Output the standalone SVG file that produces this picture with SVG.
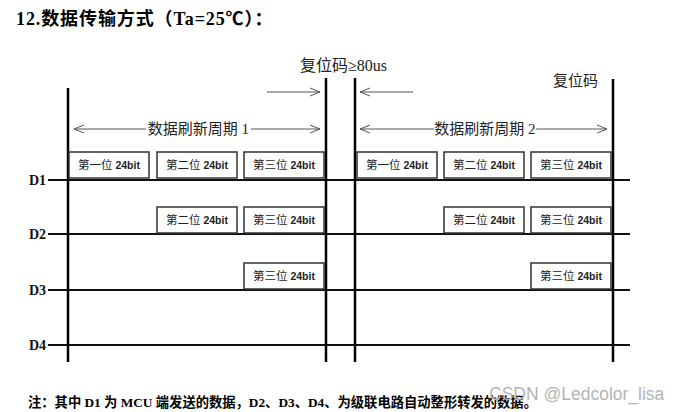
<svg xmlns="http://www.w3.org/2000/svg" width="684" height="412" viewBox="0 0 684 412">
<style>
.bg{fill:#fff}
.vl{stroke:#000;stroke-width:2.5;fill:none}
.hl{stroke:#111;stroke-width:2;fill:none}
.ar{stroke:#555;stroke-width:1;fill:none}
.box{fill:#fff;stroke:#333;stroke-width:1.5}
.cn{font-family:"Liberation Serif","Noto Sans CJK SC",serif;fill:#222}
.bl{font-family:"Liberation Serif","Noto Sans CJK SC",serif;font-size:11.5px;fill:#222}
.bit{font-family:"Liberation Sans","Noto Sans",sans-serif;font-weight:bold;font-size:10.5px}
.dl{font-family:"Liberation Serif",serif;font-weight:bold;font-size:14px;fill:#111}
.title{font-family:"Liberation Serif","Noto Sans CJK SC",serif;font-weight:bold;font-size:18px;letter-spacing:0.9px;fill:#000}
.note{font-family:"Liberation Serif","Noto Sans CJK SC",serif;font-weight:bold;font-size:13.3px;fill:#000}
.wm{font-family:"Liberation Sans",sans-serif;font-size:17.5px;fill:#b4b4b4}
</style>
<defs>
<marker id="ah" viewBox="0 0 10 10" refX="10" refY="5" markerWidth="10" markerHeight="10" markerUnits="userSpaceOnUse" orient="auto-start-reverse">
<path d="M0,1 L10,5 L0,9" fill="none" stroke="#555" stroke-width="1"/>
</marker>
</defs>
<rect class="bg" x="0" y="0" width="684" height="412"/>
<text class="title" x="16" y="25">12.数据传输方式（Ta=25℃）：</text>

<g id="connectors">
<line class="hl" x1="48" y1="180" x2="630" y2="180"/>
<line class="hl" x1="48" y1="234" x2="630" y2="234"/>
<line class="hl" x1="48" y1="290" x2="630" y2="290"/>
<line class="hl" x1="48" y1="345" x2="630" y2="345"/>
<line class="vl" x1="68" y1="88" x2="68" y2="362"/>
<line class="vl" x1="326" y1="78" x2="326" y2="362"/>
<line class="vl" x1="355" y1="78" x2="355" y2="362"/>
<line class="vl" x1="613" y1="79" x2="613" y2="362"/>
<line class="ar" x1="267" y1="92" x2="320" y2="92" marker-end="url(#ah)"/>
<line class="ar" x1="413" y1="92" x2="360" y2="92" marker-end="url(#ah)"/>
<line class="ar" x1="146" y1="129" x2="74" y2="129" marker-end="url(#ah)"/>
<line class="ar" x1="251" y1="129" x2="320" y2="129" marker-end="url(#ah)"/>
<line class="ar" x1="434" y1="129" x2="360" y2="129" marker-end="url(#ah)"/>
<line class="ar" x1="536" y1="129" x2="607" y2="129" marker-end="url(#ah)"/>
</g>

<g id="labels">
<text class="cn" x="300" y="71" font-size="16">复位码≥80us</text>
<text class="cn" x="553" y="86" font-size="15">复位码</text>
<text class="cn" x="198.5" y="134" font-size="15" text-anchor="middle">数据刷新周期 1</text>
<text class="cn" x="485" y="134" font-size="15" text-anchor="middle">数据刷新周期 2</text>
<text class="dl" x="46" y="185" text-anchor="end">D1</text>
<text class="dl" x="46" y="239" text-anchor="end">D2</text>
<text class="dl" x="46" y="295" text-anchor="end">D3</text>
<text class="dl" x="46" y="350" text-anchor="end">D4</text>
</g>

<g id="d1-b1"><rect class="box" x="69" y="152" width="80" height="26"/><text class="bl" x="109" y="169" text-anchor="middle">第一位 <tspan class="bit">24bit</tspan></text></g>
<g id="d1-b2"><rect class="box" x="157" y="152" width="80" height="26"/><text class="bl" x="197" y="169" text-anchor="middle">第二位 <tspan class="bit">24bit</tspan></text></g>
<g id="d1-b3"><rect class="box" x="244" y="152" width="80" height="26"/><text class="bl" x="284" y="169" text-anchor="middle">第三位 <tspan class="bit">24bit</tspan></text></g>
<g id="d1-b4"><rect class="box" x="357" y="152" width="80" height="26"/><text class="bl" x="397" y="169" text-anchor="middle">第一位 <tspan class="bit">24bit</tspan></text></g>
<g id="d1-b5"><rect class="box" x="444" y="152" width="80" height="26"/><text class="bl" x="484" y="169" text-anchor="middle">第二位 <tspan class="bit">24bit</tspan></text></g>
<g id="d1-b6"><rect class="box" x="531" y="152" width="80" height="26"/><text class="bl" x="571" y="169" text-anchor="middle">第三位 <tspan class="bit">24bit</tspan></text></g>

<g id="d2-b1"><rect class="box" x="157" y="207" width="80" height="26"/><text class="bl" x="197" y="224" text-anchor="middle">第二位 <tspan class="bit">24bit</tspan></text></g>
<g id="d2-b2"><rect class="box" x="244" y="207" width="80" height="26"/><text class="bl" x="284" y="224" text-anchor="middle">第三位 <tspan class="bit">24bit</tspan></text></g>
<g id="d2-b3"><rect class="box" x="444" y="207" width="80" height="26"/><text class="bl" x="484" y="224" text-anchor="middle">第二位 <tspan class="bit">24bit</tspan></text></g>
<g id="d2-b4"><rect class="box" x="531" y="207" width="80" height="26"/><text class="bl" x="571" y="224" text-anchor="middle">第三位 <tspan class="bit">24bit</tspan></text></g>

<g id="d3-b1"><rect class="box" x="244" y="263" width="80" height="26"/><text class="bl" x="284" y="280" text-anchor="middle">第三位 <tspan class="bit">24bit</tspan></text></g>
<g id="d3-b2"><rect class="box" x="531" y="263" width="80" height="26"/><text class="bl" x="571" y="280" text-anchor="middle">第三位 <tspan class="bit">24bit</tspan></text></g>

<text class="note" x="28" y="407">注：其中 D1 为 MCU 端发送的数据，D2、D3、D4、为级联电路自动整形转发的数据。</text>
<text class="wm" x="489" y="400">CSDN @Ledcolor_lisa</text>
</svg>
